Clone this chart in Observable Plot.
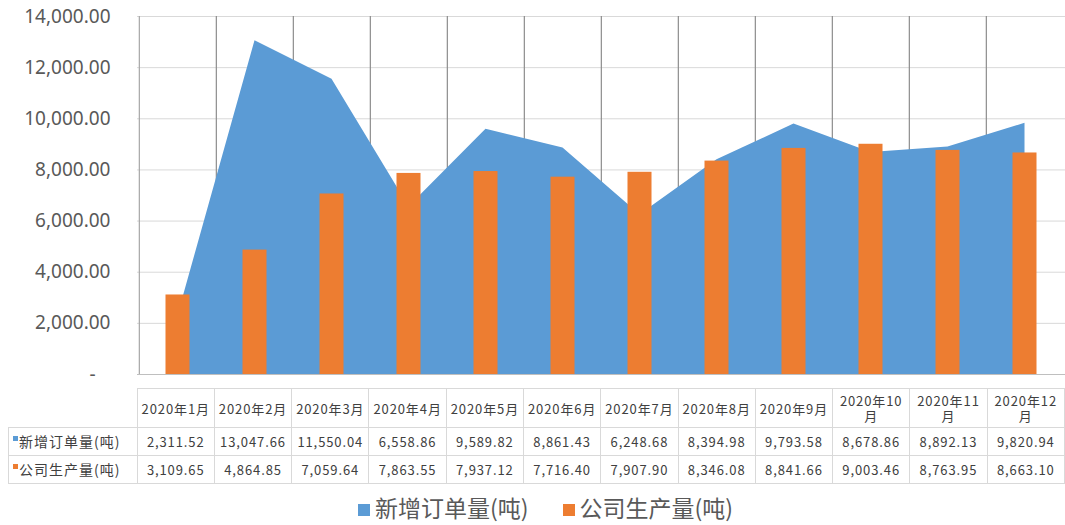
<!DOCTYPE html>
<html>
<head>
<meta charset="utf-8">
<script src="https://cdn.jsdelivr.net/npm/d3@7"></script>
<script src="https://cdn.jsdelivr.net/npm/@observablehq/plot@0.6"></script>
<style>
  html, body { margin: 0; padding: 0; background: #fff; }
  body { width: 1065px; height: 525px; overflow: hidden; font-family: "Noto Sans CJK SC", "Noto Sans", sans-serif; }
  #chart svg { display: block; }
  #table { position: absolute; left: 8px; top: 388px; border-collapse: collapse; table-layout: fixed; color: #404040; }
  #table td { border: 1px solid #d9d9d9; text-align: center; padding: 0 3px; font-size: 13px; letter-spacing: 0.9px; line-height: 15px; white-space: normal; }
  #table td.blank { border: none; border-right: 1px solid #d9d9d9; border-bottom: 1px solid #d9d9d9; }
  #table tr.head td { height: 38px; }
  #table tr.row td { height: 27px; }
  #table td.lab { text-align: left; padding-left: 4px; font-size: 14px; letter-spacing: 1px; }
  .mk { display: inline-block; width: 5px; height: 5px; vertical-align: 6px; margin-right: 1px; }
  #legend { position: absolute; left: 0; top: 492px; width: 1065px; box-sizing: border-box; padding-left: 26px; text-align: center; font-size: 23px; line-height: 30px; color: #595959; white-space: nowrap; }
  #legend span.item { display: inline-block; margin: 0 17px; }
  #legend span.sw { display: inline-block; width: 12px; height: 12px; margin-right: 5px; vertical-align: 1px; }
</style>
</head>
<body>
<div id="chart"></div>
<table id="table"></table>
<div id="legend"></div>
<script>
const months = ["2020年1月","2020年2月","2020年3月","2020年4月","2020年5月","2020年6月","2020年7月","2020年8月","2020年9月","2020年10月","2020年11月","2020年12月"];
const orders = [2311.52, 13047.66, 11550.04, 6558.86, 9589.82, 8861.43, 6248.68, 8394.98, 9793.58, 8678.86, 8892.13, 9820.94];
const production = [3109.65, 4864.85, 7059.64, 7863.55, 7937.12, 7716.40, 7907.90, 8346.08, 8841.66, 9003.46, 8763.95, 8663.10];
const seriesNames = ["新增订单量(吨)", "公司生产量(吨)"];
const seriesColors = ["#5b9bd5", "#ed7d31"];
const yTicks = [0, 2000, 4000, 6000, 8000, 10000, 12000, 14000];

const data = months.map((m, i) => ({month: m, orders: orders[i], production: production[i]}));

const W = 1065, marginLeft = 137, marginRight = 0;
const bw = (W - marginLeft - marginRight) / months.length;
const fmt = d3.format(",.2f");

const chart = Plot.plot({
  width: W,
  height: 388,
  marginLeft, marginRight,
  marginTop: 16,
  marginBottom: 14,
  style: {fontFamily: "'Noto Sans', sans-serif", background: "#fff"},
  x: {type: "band", domain: months, padding: 0, axis: null},
  y: {domain: [0, 14000], ticks: yTicks, label: null},
  marks: [
    Plot.ruleY(yTicks.slice(1), {stroke: "#d9d9d9", strokeWidth: 1}),
    Plot.ruleX(months.slice(1), {x: d => d, dx: -bw / 2, stroke: "#8c8c8c", strokeWidth: 1.2}),
    Plot.areaY(data, {x: "month", y: "orders", fill: seriesColors[0], curve: "linear"}),
    Plot.barY(data, {x: "month", y: "production", fill: seriesColors[1], insetLeft: 26.5, insetRight: 26.5}),
    Plot.ruleX([months[0]], {x: d => d, dx: -bw / 2, stroke: "#a6a6a6", strokeWidth: 1.2}),
    Plot.ruleY([0], {stroke: "#bfbfbf", strokeWidth: 1}),
    Plot.axisY({ticks: yTicks, tickSize: 0, tickPadding: 27, fontSize: 19, fill: "#595959",
      tickFormat: d => d === 0 ? "-\u00a0\u00a0\u00a0" : fmt(d)})
  ]
});
document.getElementById("chart").appendChild(chart);

// data table
const table = document.getElementById("table");
let html = '<colgroup><col style="width:129px">' + months.map(() => `<col style="width:${bw}px">`).join("") + '</colgroup>';
html += '<tr class="head"><td class="blank"></td>' + months.map(m => `<td>${m}</td>`).join("") + '</tr>';
const rows = [orders, production];
rows.forEach((vals, k) => {
  html += `<tr class="row"><td class="lab"><span class="mk" style="background:${seriesColors[k]}"></span>${seriesNames[k]}</td>` +
    vals.map(v => `<td>${fmt(v)}</td>`).join("") + '</tr>';
});
table.innerHTML = html;

// legend
document.getElementById("legend").innerHTML = seriesNames.map((n, k) =>
  `<span class="item"><span class="sw" style="background:${seriesColors[k]}"></span>${n}</span>`).join("");
</script>
</body>
</html>
